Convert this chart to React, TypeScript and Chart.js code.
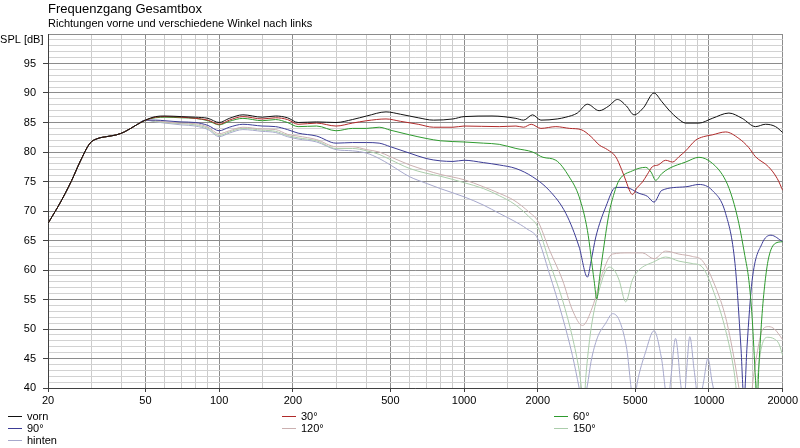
import React, { useEffect, useRef } from 'react';
import { Chart, registerables } from 'chart.js';

Chart.register(...registerables);

const TITLE = 'Frequenzgang Gesamtbox';
const SUBTITLE = 'Richtungen vorne und verschiedene Winkel nach links';
const Y_LABEL = 'SPL [dB]';

const X_GRID = [20, 30, 40, 50, 60, 70, 80, 90, 100, 150, 200, 300, 400, 500, 600, 700, 800, 900, 1000, 1500, 2000, 3000, 4000, 5000, 6000, 7000, 8000, 9000, 10000, 15000, 20000];
const X_LABELS = [20, 50, 100, 200, 500, 1000, 2000, 5000, 10000, 20000];
const Y_MIN = 40;
const Y_MAX = 100;

const SERIES_NAMES = ['vorn', '30°', '60°', '90°', '120°', '150°', 'hinten'];
const SERIES_COLORS = ['#111111', '#b02a2a', '#2e9a2e', '#3c3c96', '#cbb0b0', '#abcdab', '#a6a8cc'];

// shared low-frequency part (all directions identical)
const LOW_FREQ = [20, 22.5, 25, 27, 29.7, 32, 34.6, 38, 41, 46, 50];
const LOW_DB = [67.9, 71.5, 75.2, 78.3, 81.5, 82.3, 82.6, 82.9, 83.4, 84.6, 85.4];

const VORN_FREQ = [55, 60, 70, 80, 90, 100, 110, 125, 150, 170, 190, 210, 250, 300, 350, 400, 480, 550, 650, 750, 900, 1000, 1300, 1628, 1750, 1904, 2059, 2400, 2603, 2900, 3189, 3560, 3900, 4227, 4600, 4944, 5400, 5964, 6400, 6864, 7500, 8035, 9100, 10310, 12060, 13660, 15490, 17020, 18700, 20000];
const VORN_DB = [86.0, 86.1, 86.0, 85.9, 85.7, 85.0, 85.7, 86.3, 85.9, 86.1, 85.8, 85.0, 85.1, 85.0, 85.5, 86.1, 86.8, 86.4, 85.8, 85.4, 85.6, 86.0, 86.1, 85.7, 85.4, 86.3, 85.4, 85.6, 85.9, 86.6, 88.1, 87.0, 87.8, 88.9, 87.8, 86.3, 87.5, 90.0, 88.6, 87.1, 85.6, 84.9, 84.9, 85.7, 86.6, 85.7, 84.3, 84.7, 84.3, 83.3];

const DEG30_FREQ = [55, 60, 70, 80, 90, 100, 110, 125, 150, 170, 190, 210, 250, 300, 350, 400, 480, 550, 650, 750, 900, 1000, 1392, 1628, 1750, 1880, 2059, 2370, 2700, 3000, 3300, 3560, 3850, 4160, 4400, 4571, 4760, 4864, 5100, 5346, 5600, 5870, 6200, 6654, 7100, 7540, 8035, 8820, 9500, 10310, 11690, 13240, 14500, 15490, 17500, 19000, 20000];
const DEG30_DB = [85.9, 86.0, 85.9, 85.7, 85.4, 84.7, 85.4, 86.0, 85.6, 85.8, 85.5, 84.7, 84.9, 84.4, 84.9, 85.3, 85.6, 85.2, 84.7, 84.2, 84.2, 84.4, 84.3, 84.4, 84.2, 84.7, 84.0, 84.3, 84.0, 83.8, 82.6, 81.2, 80.4, 79.2, 77.0, 75.2, 73.3, 72.8, 74.0, 74.9, 76.2, 77.5, 77.8, 78.6, 78.3, 79.2, 80.2, 82.0, 82.6, 82.9, 83.4, 82.3, 80.8, 79.2, 77.5, 75.5, 73.5];

const DEG60_FREQ = [55, 60, 70, 80, 90, 100, 110, 125, 150, 170, 190, 210, 250, 300, 350, 400, 450, 500, 600, 700, 800, 1000, 1200, 1392, 1628, 1904, 2100, 2370, 2686, 2950, 3189, 3396, 3483, 3570, 3670, 3908, 4100, 4294, 4864, 5515, 5800, 6058, 6400, 6864, 8035, 9100, 10310, 11690, 12500, 13240, 14000, 14555, 15000, 15490, 15700, 16000, 16480, 17000, 17550, 18620, 20000];
const DEG60_DB = [85.8, 85.9, 85.8, 85.7, 85.3, 84.6, 85.2, 85.7, 85.3, 85.5, 85.0, 84.3, 84.4, 83.6, 84.0, 84.0, 84.2, 83.7, 82.9, 82.3, 81.9, 81.7, 81.5, 81.3, 80.6, 80.0, 79.1, 78.6, 75.8, 72.4, 66.7, 58.2, 55.1, 58.5, 62.2, 69.6, 73.0, 75.2, 76.8, 77.4, 76.6, 75.2, 76.3, 77.2, 78.3, 79.1, 78.1, 75.2, 72.0, 67.9, 62.5, 58.2, 52.0, 41.3, 37.0, 44.0, 52.6, 58.5, 62.2, 64.5, 64.8];

const DEG90_FREQ = [55, 60, 70, 80, 90, 100, 110, 125, 150, 170, 190, 210, 250, 300, 350, 400, 450, 500, 600, 700, 800, 900, 1000, 1200, 1392, 1628, 1904, 2226, 2603, 2950, 3189, 3300, 3451, 3790, 4160, 4571, 5180, 5600, 5964, 6418, 8035, 9100, 10310, 11690, 12770, 13500, 13900, 14300, 15000, 16480, 17900, 20000];
const DEG90_DB = [85.4, 85.3, 85.1, 85.0, 84.5, 83.6, 84.2, 84.7, 84.4, 84.3, 83.8, 83.2, 82.7, 81.5, 81.6, 81.6, 81.5, 80.9, 79.8, 78.9, 78.5, 78.4, 78.6, 78.2, 77.8, 77.2, 75.8, 73.5, 69.6, 63.9, 58.8, 61.5, 65.6, 70.7, 74.0, 74.0, 73.0, 72.5, 71.5, 73.5, 74.1, 74.5, 73.5, 69.6, 61.1, 47.0, 38.0, 47.0, 58.2, 64.5, 65.9, 64.8];

const DEG120_FREQ = [55, 60, 70, 80, 90, 100, 110, 125, 150, 170, 190, 210, 250, 300, 350, 400, 450, 500, 600, 700, 800, 1000, 1200, 1392, 1600, 1844, 2000, 2226, 2523, 2770, 3044, 3342, 3670, 4034, 4716, 5346, 5964, 6654, 7540, 8544, 9388, 10640, 11690, 12640, 13240, 13600, 14700, 15200, 15980, 16490, 17550, 18500, 20000];
const DEG120_DB = [85.3, 85.1, 84.9, 84.8, 84.2, 83.1, 83.6, 84.2, 83.9, 83.8, 83.0, 82.7, 82.1, 80.9, 80.9, 80.4, 80.0, 79.2, 77.8, 76.9, 76.2, 75.3, 74.1, 73.0, 71.8, 69.8, 68.3, 63.5, 58.3, 53.2, 50.6, 53.7, 59.4, 62.7, 62.9, 62.9, 61.9, 63.2, 62.7, 62.3, 61.6, 57.1, 52.0, 45.2, 40.1, 37.0, 37.0, 42.0, 47.5, 49.8, 50.4, 50.0, 48.2];

const DEG150_FREQ = [55, 60, 70, 80, 90, 100, 110, 125, 150, 170, 190, 210, 250, 300, 350, 400, 450, 500, 600, 700, 800, 1000, 1200, 1392, 1600, 1844, 2000, 2226, 2523, 2770, 2950, 3044, 3100, 3140, 3293, 3560, 3908, 4100, 4294, 4571, 4864, 5180, 5964, 6654, 7540, 8544, 9388, 10640, 11690, 12640, 13000, 13400, 15300, 15800, 16300, 17300, 18500, 19300, 20000];
const DEG150_DB = [85.2, 85.0, 84.8, 84.6, 84.0, 82.8, 83.4, 84.0, 83.7, 83.5, 82.8, 82.4, 81.9, 80.6, 80.6, 80.2, 79.6, 78.7, 77.2, 76.4, 75.9, 74.8, 73.8, 72.6, 71.2, 69.0, 67.3, 61.5, 54.9, 48.6, 43.0, 39.0, 38.5, 41.8, 49.8, 56.6, 60.5, 60.0, 58.3, 54.6, 58.3, 60.0, 61.4, 62.2, 61.5, 61.1, 60.5, 55.4, 49.8, 43.0, 39.0, 37.0, 37.0, 42.0, 46.5, 48.6, 48.3, 47.5, 45.5];

const HINTEN_FREQ = [55, 60, 70, 80, 90, 100, 110, 125, 150, 170, 190, 210, 250, 300, 350, 400, 450, 500, 600, 700, 800, 1000, 1200, 1392, 1600, 1800, 2000, 2226, 2523, 2770, 2950, 3044, 3189, 3300, 3500, 3790, 4040, 4300, 4600, 4944, 5100, 5500, 5964, 6400, 6800, 7000, 7300, 7700, 7900, 8100, 8350, 8700, 9100, 9500, 9900, 10300, 10800];
const HINTEN_DB = [85.1, 84.9, 84.6, 84.4, 83.8, 82.6, 83.2, 83.8, 83.5, 83.3, 82.6, 82.2, 81.7, 80.4, 80.2, 79.8, 78.9, 77.8, 75.8, 74.7, 73.8, 72.4, 71.0, 69.6, 68.3, 67.0, 65.3, 59.5, 52.0, 45.5, 40.0, 37.0, 40.5, 44.5, 48.5, 51.0, 52.6, 51.5, 47.0, 37.5, 41.0, 46.0, 49.7, 45.0, 37.5, 42.0, 48.4, 40.0, 37.5, 43.0, 48.7, 43.0, 37.5, 41.0, 45.0, 41.0, 37.0];

const SERIES_FREQ = [VORN_FREQ, DEG30_FREQ, DEG60_FREQ, DEG90_FREQ, DEG120_FREQ, DEG150_FREQ, HINTEN_FREQ];
const SERIES_DB = [VORN_DB, DEG30_DB, DEG60_DB, DEG90_DB, DEG120_DB, DEG150_DB, HINTEN_DB];

const FONT = '"Liberation Sans", Arial, sans-serif';

const overlayPlugin = {
  id: 'overlay',
  afterDraw(chart: any) {
    const ctx = chart.ctx as CanvasRenderingContext2D;
    const area = chart.chartArea;
    ctx.save();
    ctx.fillStyle = '#000000';
    ctx.textBaseline = 'alphabetic';
    ctx.textAlign = 'left';
    ctx.font = `13px ${FONT}`;
    ctx.fillText(TITLE, area.left, 13);
    ctx.font = `11px ${FONT}`;
    ctx.fillText(SUBTITLE, area.left, 26.5);
    ctx.textAlign = 'right';
    ctx.fillText(Y_LABEL, 43.5, 42.5);

    const colX = [8, 282, 554];
    const rowY = [416, 428, 440];
    chart.data.datasets.forEach((ds: any, i: number) => {
      const x = colX[i % 3];
      const y = rowY[Math.floor(i / 3)];
      ctx.strokeStyle = ds.borderColor;
      ctx.lineWidth = 1;
      ctx.beginPath();
      ctx.moveTo(x, y + 0.5);
      ctx.lineTo(x + 14, y + 0.5);
      ctx.stroke();
      ctx.fillStyle = '#000000';
      ctx.textAlign = 'left';
      ctx.textBaseline = 'middle';
      ctx.font = `11px ${FONT}`;
      ctx.fillText(ds.label, x + 19, y + 0.5);
    });
    ctx.restore();
  },
};

export default function App() {
  const canvasRef = useRef<HTMLCanvasElement | null>(null);

  useEffect(() => {
    document.body.style.margin = '0';
    const canvas = canvasRef.current;
    if (!canvas) return;

    const datasets = SERIES_NAMES.map((name, s) => {
      const freqs = LOW_FREQ.concat(SERIES_FREQ[s]);
      const dbs = LOW_DB.concat(SERIES_DB[s]);
      return {
        label: name,
        data: freqs.map((f, i) => ({ x: f, y: dbs[i] })),
        borderColor: SERIES_COLORS[s],
        backgroundColor: SERIES_COLORS[s],
        borderWidth: 1,
        pointRadius: 0,
        cubicInterpolationMode: 'monotone' as const,
        fill: false,
        clip: 0,
      };
    });

    const chart = new Chart(canvas, {
      type: 'line',
      data: { datasets },
      plugins: [overlayPlugin],
      options: {
        animation: false,
        responsive: false,
        devicePixelRatio: 1,
        layout: { padding: { top: 34, right: 16, left: 0, bottom: 0 } },
        plugins: {
          legend: { display: false },
          tooltip: { enabled: false },
          title: { display: false },
        },
        events: [],
        scales: {
          x: {
            type: 'logarithmic',
            min: 20,
            max: 20000,
            afterBuildTicks: (scale: any) => {
              scale.ticks = X_GRID.map((v) => ({ value: v }));
            },
            afterFit: (scale: any) => {
              scale.height = 60;
            },
            ticks: {
              autoSkip: false,
              maxRotation: 0,
              minRotation: 0,
              padding: 2,
              color: '#000000',
              font: { family: FONT, size: 11 },
              callback: (value: any) => (X_LABELS.includes(Number(value)) ? String(value) : ''),
            },
            grid: {
              color: (ctx: any) => (ctx.tick && X_LABELS.includes(ctx.tick.value) ? '#8c8c8c' : '#cccccc'),
              tickColor: (ctx: any) => (ctx.tick && X_LABELS.includes(ctx.tick.value) ? '#404040' : 'rgba(0,0,0,0)'),
              tickLength: 4,
              lineWidth: 1,
            },
            border: { color: '#404040', width: 1 },
          },
          y: {
            type: 'linear',
            min: Y_MIN,
            max: Y_MAX,
            afterBuildTicks: (scale: any) => {
              const t = [];
              for (let v = Y_MIN; v <= Y_MAX; v++) t.push({ value: v });
              scale.ticks = t;
            },
            afterFit: (scale: any) => {
              scale.width = 48;
            },
            ticks: {
              autoSkip: false,
              padding: 7,
              color: '#000000',
              font: { family: FONT, size: 11 },
              callback: (value: any) => {
                const v = Number(value);
                return v % 5 === 0 && v !== Y_MAX ? String(v) : '';
              },
            },
            grid: {
              color: (ctx: any) => (ctx.tick && ctx.tick.value % 5 === 0 ? '#8c8c8c' : '#d2d2d2'),
              tickColor: (ctx: any) => (ctx.tick && ctx.tick.value % 5 === 0 && ctx.tick.value !== Y_MAX ? '#404040' : 'rgba(0,0,0,0)'),
              tickLength: 5,
              lineWidth: 1,
            },
            border: { color: '#404040', width: 1 },
          },
        },
      },
    });

    return () => {
      chart.destroy();
    };
  }, []);

  return (
    <div style={{ position: 'relative', width: 800, height: 448, background: '#ffffff' }}>
      <canvas ref={canvasRef} width={800} height={448} style={{ display: 'block', width: 800, height: 448 }} />
    </div>
  );
}
